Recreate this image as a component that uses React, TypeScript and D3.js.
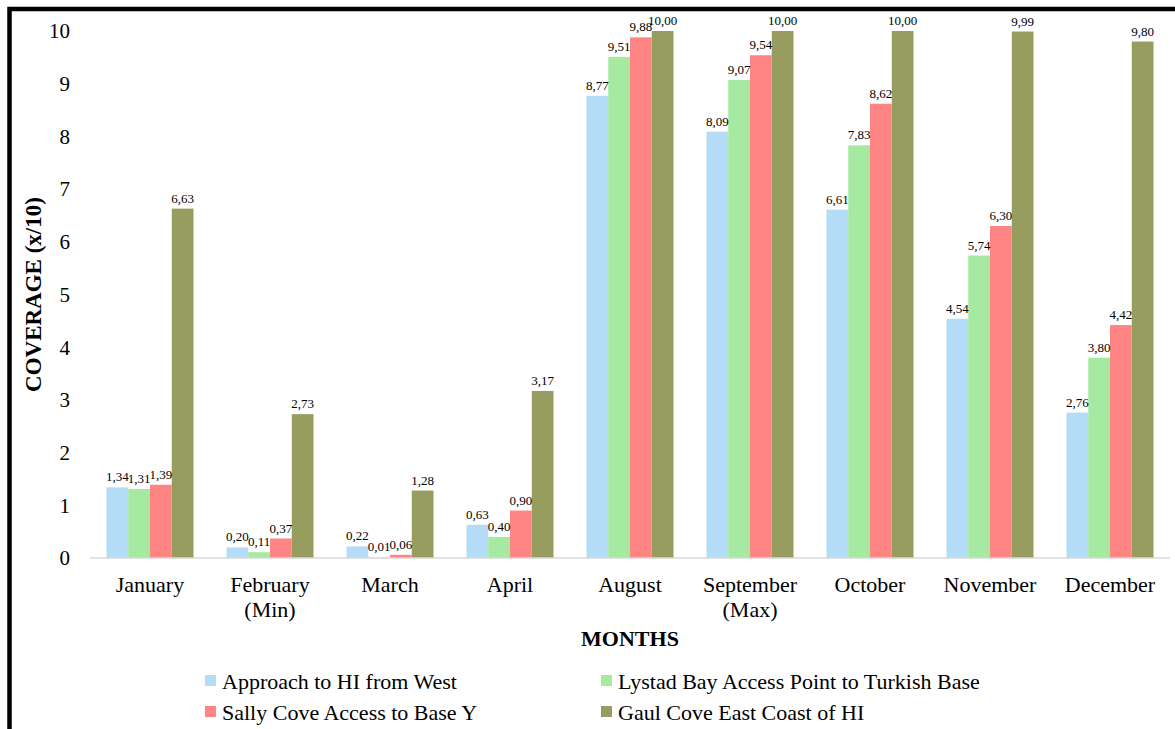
import React from 'react';
import * as d3 from 'd3';

const months = ['January', 'February\n(Min)', 'March', 'April', 'August', 'September\n(Max)', 'October', 'November', 'December'];
const seriesNames = [
  'Approach to HI from West',
  'Lystad Bay Access Point to Turkish Base',
  'Sally Cove Access to Base Y',
  'Gaul Cove East Coast of HI',
];
const approachWest = [1.34, 0.2, 0.22, 0.63, 8.77, 8.09, 6.61, 4.54, 2.76];
const lystadBay = [1.31, 0.11, 0.01, 0.4, 9.51, 9.07, 7.83, 5.74, 3.8];
const sallyCove = [1.39, 0.37, 0.06, 0.9, 9.88, 9.54, 8.62, 6.3, 4.42];
const gaulCove = [6.63, 2.73, 1.28, 3.17, 10.0, 10.0, 10.0, 9.99, 9.8];
const yTicks = [0, 1, 2, 3, 4, 5, 6, 7, 8, 9, 10];
const colors = ['#B5DCF6', '#A6E9A0', '#FF8585', '#979D5E'];

const W = 1175;
const H = 729;
const font = '"Liberation Serif", "Times New Roman", serif';

export default function App() {
  const series = [approachWest, lystadBay, sallyCove, gaulCove];

  const x = d3.scaleBand<string>().domain(months).range([90, 1170]).paddingInner(0.275).paddingOuter(0.1375);
  const xs = d3.scaleBand<number>().domain([0, 1, 2, 3]).range([0, x.bandwidth()]);
  const y = d3.scaleLinear().domain([0, 10]).range([558, 31]);
  const fmt = (v: number) => v.toFixed(2).replace('.', ',');

  // legend layout: two columns, two rows
  const legendPos = [
    { x: 205, y: 681 },
    { x: 601, y: 681 },
    { x: 205, y: 712 },
    { x: 601, y: 712 },
  ];

  return (
    <svg width={W} height={H} style={{ position: 'absolute', left: 0, top: 0, background: '#fff' }} fontFamily={font}>
      <rect x={0} y={0} width={W} height={H} fill="#fff" />
      {/* frame */}
      <rect x={9.5} y={9} width={W + 20} height={H + 20} fill="none" stroke="#000" strokeWidth={4.5} />

      {/* bars */}
      {months.map((m, i) => (
        <g key={m} transform={`translate(${x(m)},0)`}>
          {series.map((s, k) => (
            <rect key={k} x={xs(k)} y={y(s[i])} width={xs.bandwidth()} height={y(0) - y(s[i])} fill={colors[k]} />
          ))}
        </g>
      ))}

      {/* value labels */}
      {months.map((m, i) => (
        <g key={m + 'l'} transform={`translate(${x(m)},0)`}>
          {series.map((s, k) => (
            <text key={k} x={(xs(k) as number) + xs.bandwidth() / 2} y={y(s[i]) - 6} textAnchor="middle" fontSize={13} fill="#000">
              {fmt(s[i])}
            </text>
          ))}
        </g>
      ))}

      {/* baseline */}
      <line x1={90} x2={1170} y1={y(0)} y2={y(0)} stroke="#D9D9D9" strokeWidth={1.5} />

      {/* y ticks */}
      {yTicks.map((t) => (
        <text key={t} x={70} y={y(t)} dy="0.35em" textAnchor="end" fontSize={21} fill="#000">
          {t}
        </text>
      ))}

      {/* x labels */}
      {months.map((m) => (
        <text key={m + 'x'} x={(x(m) as number) + x.bandwidth() / 2} y={592} textAnchor="middle" fontSize={22} fill="#000">
          {m.split('\n').map((line, j) => (
            <tspan key={j} x={(x(m) as number) + x.bandwidth() / 2} dy={j === 0 ? 0 : 25}>
              {line}
            </tspan>
          ))}
        </text>
      ))}

      {/* axis titles */}
      <text x={630} y={646} textAnchor="middle" fontSize={22} fontWeight="bold" fill="#000">
        MONTHS
      </text>
      <text transform={`translate(41,${(y(0) + y(10)) / 2}) rotate(-90)`} textAnchor="middle" fontSize={23} fontWeight="bold" fill="#000">
        COVERAGE (x/10)
      </text>

      {/* legend */}
      {seriesNames.map((n, k) => (
        <g key={n} transform={`translate(${legendPos[k].x},${legendPos[k].y})`}>
          <rect x={0} y={-6} width={11} height={11} fill={colors[k]} />
          <text x={17} y={0} dy="0.35em" fontSize={22} fill="#000">
            {n}
          </text>
        </g>
      ))}
    </svg>
  );
}
